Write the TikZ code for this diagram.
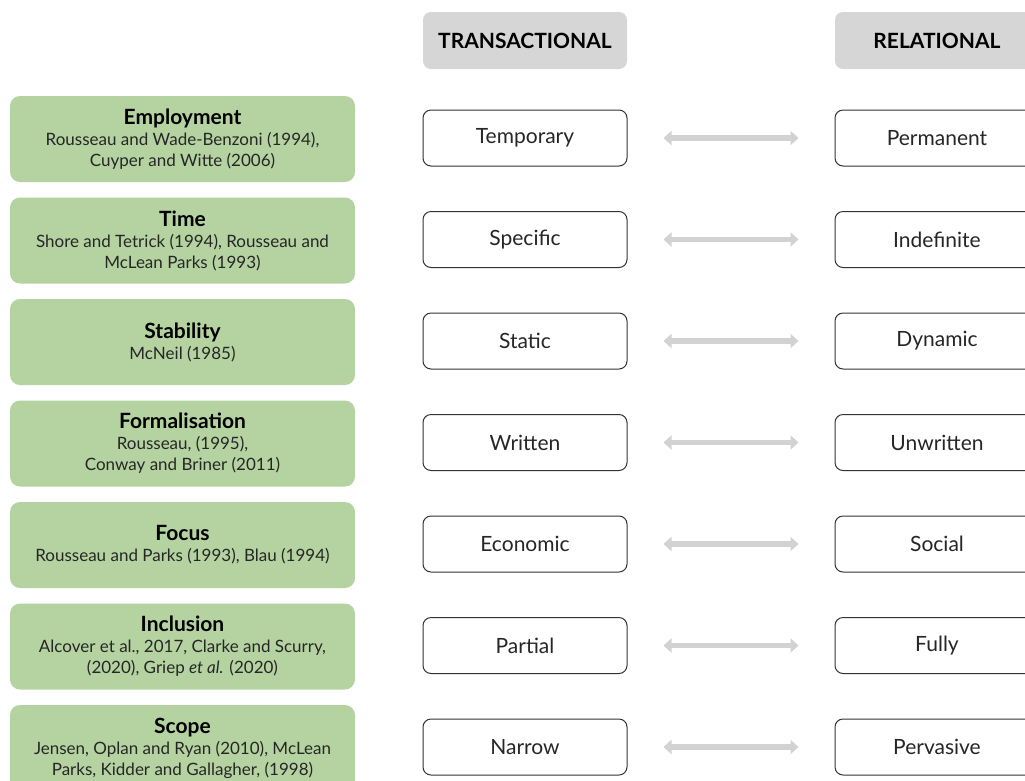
\documentclass[tikz,border=0pt]{standalone}
\usepackage{fontspec}
\setmainfont{Lato}
\usetikzlibrary{positioning,arrows.meta}

\definecolor{srcgreen}{RGB}{181,211,161}
\definecolor{headgray}{RGB}{214,214,214}
\definecolor{linkgray}{RGB}{210,210,210}

\begin{document}
\begin{tikzpicture}[x=1pt,y=-1pt,
    src node/.style={rounded corners=10pt,fill=srcgreen,minimum width=345pt,
      minimum height=86pt,align=center,text=black!85,font=\fontsize{17}{21}\selectfont},
    head node/.style={rounded corners=8pt,fill=headgray,minimum width=204pt,
      minimum height=57pt,font=\bfseries\fontsize{21}{24}\selectfont},
    val node/.style={rounded corners=8pt,draw=black!80,line width=1pt,fill=white,
      text=black!85,minimum width=204pt,minimum height=56pt,font=\fontsize{21}{24}\selectfont},
    link/.style={{Triangle[length=8pt,width=14pt]}-{Triangle[length=8pt,width=14pt]},
      line width=5.5pt,draw=linkgray,shorten <=36pt,shorten >=36pt}]
  \clip (0,0) rectangle (1025,780);

  \node[head node] (trans) at (525,40.5) {TRANSACTIONAL};
  \node[head node] (relat) at (937,40.5) {RELATIONAL};

  \foreach \n/\ttl/\src/\lft/\rgt in {
      1/Employment/{Rousseau and Wade-Benzoni (1994),\\Cuyper and Witte (2006)}/Temporary/Permanent,
      2/Time/{Shore and Tetrick (1994), Rousseau and\\McLean Parks (1993)}/Specific/Indefinite,
      3/Stability/{McNeil (1985)}/Static/Dynamic,
      4/Formalisation/{Rousseau, (1995),\\Conway and Briner (2011)}/Written/Unwritten,
      5/Focus/{Rousseau and Parks (1993), Blau (1994)}/Economic/Social,
      6/Inclusion/{Alcover et al., 2017, Clarke and Scurry,\\(2020), Griep \textit{et al.} (2020)}/Partial/Fully,
      7/Scope/{Jensen, Oplan and Ryan (2010), McLean\\Parks, Kidder and Gallagher, (1998)}/Narrow/Pervasive}
  {
    \node[src node] (src\n) at (182.5,{139+101.5*(\n-1)})
      {{\bfseries\color{black}\fontsize{21}{21}\selectfont \ttl}\\\src};
    \node[val node] (tr\n) at (525,{138+101.5*(\n-1)}) {\lft};
    \node[val node] (rel\n) at (937,{138+101.5*(\n-1)}) {\rgt};
    \draw[link] (tr\n) -- (rel\n);
  }
\end{tikzpicture}
\end{document}
